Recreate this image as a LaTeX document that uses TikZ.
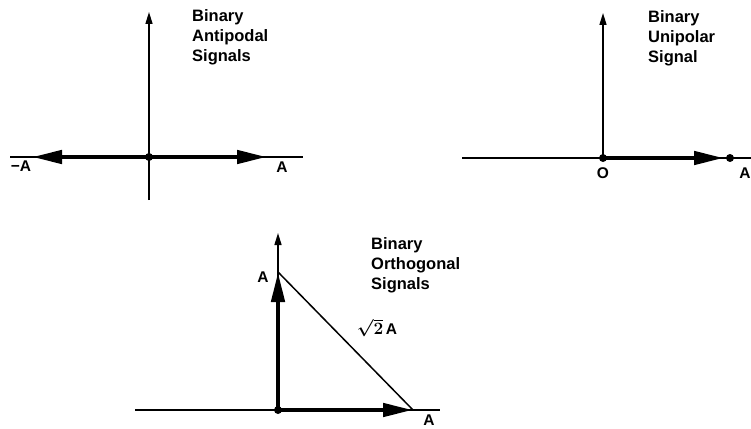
\documentclass[tikz,border=0pt]{standalone}
\usepackage{fontspec}
\setmainfont{Liberation Sans}
\usetikzlibrary{arrows.meta}
\begin{document}
\begin{tikzpicture}[x=1pt,y=-1pt,
  axis/.style={line width=1.5pt},
  axisarrow/.style={axis,-{Triangle[length=12pt,width=7pt]}},
  vec/.style={line width=4.5pt,-{Triangle[length=30pt,width=13pt]}},
  dotc/.style={circle,fill,inner sep=0pt,minimum size=8pt},
  ttl/.style={font=\bfseries\fontsize{16.5}{20}\selectfont,align=left,inner sep=0pt,anchor=north west},
  lbl/.style={font=\bfseries\fontsize{15.5}{17}\selectfont,inner sep=0pt}]
\useasboundingbox (0,0) rectangle (751,428);
% ---- panel 1: antipodal
\coordinate (o1) at (149,157);
\coordinate (l1) at (10,157);
\coordinate (r1) at (303,157);
\coordinate (t1) at (149,12);
\coordinate (b1) at (149,200);
\coordinate (p1) at (267,157);
\coordinate (n1) at (32,157);
\draw[axis] (l1) -- (r1);
\draw[axisarrow] (b1) -- (t1);
\draw[vec] (o1) -- (p1);
\draw[vec] (o1) -- (n1);
\node[dotc] (d1) at (o1) {};
\node[lbl] (lnA1) at (21,166) {\textminus A};
\node[lbl] (lpA1) at (282,167) {A};
\node[ttl] (tt1) at (192,9) {Binary\\Antipodal\\Signals};
% ---- panel 2: unipolar
\coordinate (o2) at (603,158);
\coordinate (l2) at (462,158);
\coordinate (r2) at (751,158);
\coordinate (t2) at (603,13);
\coordinate (p2) at (724,158);
\draw[axis] (l2) -- (r2);
\draw[axisarrow] (o2) -- (t2);
\draw[vec] (o2) -- (p2);
\node[dotc] (d2) at (o2) {};
\node[dotc] (e2) at (730,158) {};
\node[lbl] (lO2) at (603,173) {O};
\node[lbl] (lA2) at (745,173) {A};
\node[ttl] (tt2) at (648,10) {Binary\\Unipolar\\Signal};
% ---- panel 3: orthogonal
\coordinate (o3) at (278,410);
\coordinate (l3) at (135,410);
\coordinate (r3) at (440,410);
\coordinate (t3) at (278,233);
\coordinate (v3) at (278,272);
\coordinate (h3) at (413,410);
\draw[axis] (l3) -- (r3);
\draw[axisarrow] (o3) -- (t3);
\draw[axis] (v3) -- (h3);
\draw[vec] (o3) -- (v3);
\draw[vec] (o3) -- (h3);
\node[dotc] (d3) at (o3) {};
\node[lbl] (lAv3) at (263,277) {A};
\node[lbl] (lAh3) at (429,420) {A};
\node[lbl] (lsq3) at (377,328) {{\boldmath\fontsize{17}{17}\selectfont$\sqrt{2}$}\,A};
\node[ttl] (tt3) at (371,237) {Binary\\Orthogonal\\Signals};
\end{tikzpicture}
\end{document}
